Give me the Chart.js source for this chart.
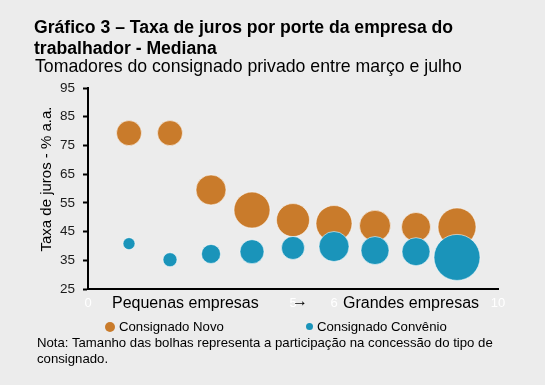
<!DOCTYPE html>
<html lang="pt-BR">
<head>
<meta charset="utf-8">
<script src="https://cdn.jsdelivr.net/npm/chart.js@4.4.1/dist/chart.umd.min.js"></script>
<style>
  html, body { margin: 0; padding: 0; }
  body {
    width: 545px; height: 385px; overflow: hidden; position: relative;
    background: #ececec; font-family: "Liberation Sans", Arial, sans-serif; color: #000;
  }
  #wrap { position: absolute; left: 0; top: 0; width: 545px; height: 385px; }
  .txt { position: absolute; white-space: nowrap; }
  #titulo { left: 34px; top: 17px; font-size: 17.6px; font-weight: bold; line-height: 21px; }
  #subtitulo { left: 35px; top: 56px; font-size: 17.7px; line-height: 20px; }
  .eixo { top: 293px; font-size: 16px; line-height: 20px; }
  .leg { top: 318px; font-size: 13.2px; line-height: 17px; }
  .dot { display: inline-block; border-radius: 50%; vertical-align: middle; margin-right: 4px; position: relative; top: -1px; }
  #nota { left: 37px; top: 335px; font-size: 13.2px; line-height: 16px; }
</style>
</head>
<body>
<div id="wrap"><canvas id="grafico"></canvas></div>
<div class="txt" id="titulo">Gráfico 3 – Taxa de juros por porte da empresa do<br>trabalhador - Mediana</div>
<div class="txt" id="subtitulo">Tomadores do consignado privado entre março e julho</div>
<div class="txt eixo" style="left:112px">Pequenas empresas</div>
<div class="txt eixo" style="left:292px; top:291px">→</div>
<div class="txt eixo" style="left:343px">Grandes empresas</div>
<div class="txt leg" style="left:105px"><span class="dot" style="width:10px;height:10px;background:#c97b2b"></span>Consignado Novo</div>
<div class="txt leg" style="left:306px"><span class="dot" style="width:7px;height:7px;background:#1a94ba"></span>Consignado Convênio</div>
<div class="txt" id="nota">Nota: Tamanho das bolhas representa a participação na concessão do tipo de<br>consignado.</div>
<script>
// dados (posicao no eixo x = porte da empresa, 1 = menor)
var portes = [1, 2, 3, 4, 5, 6, 7, 8, 9];
var taxaNovo = [79.3, 79.3, 59.5, 52.5, 49, 47.8, 47, 46.6, 46.6];
var raioNovo = [12.5, 12.5, 15, 18, 16.5, 18, 15.5, 14.5, 19];
var taxaConvenio = [40.8, 35.2, 37.2, 38, 39.3, 39.8, 38.4, 38, 36];
var raioConvenio = [6, 7, 9.5, 12, 11.5, 15, 14, 14, 23];
var ticksY = [25, 35, 45, 55, 65, 75, 85, 95];
var ticksXVisiveis = [0, 5, 6, 10];
var tituloEixoY = 'Taxa de juros - % a.a.';

function pontos(xs, ys, rs) {
    return xs.map(function (x, i) { return { x: x, y: ys[i], r: rs[i] }; });
}

var fonte = '"Liberation Sans", Arial, sans-serif';

// titulo do eixo y desenhado a mao para ficar um pouco acima do centro
var pluginTituloY = {
    id: 'tituloY',
    afterDraw: function (chart) {
        var ctx = chart.ctx;
        ctx.save();
        ctx.translate(47, 179);
        ctx.rotate(-Math.PI / 2);
        ctx.fillStyle = '#000';
        ctx.font = '15px ' + fonte;
        ctx.textAlign = 'center';
        ctx.textBaseline = 'middle';
        ctx.fillText(tituloEixoY, 0, 0);
        ctx.restore();
    }
};

new Chart(document.getElementById('grafico'), {
    type: 'bubble',
    data: {
        datasets: [
            {
                label: 'Consignado Convênio',
                data: pontos(portes, taxaConvenio, raioConvenio),
                backgroundColor: '#1a94ba',
                borderColor: 'rgba(255,255,255,0.55)',
                borderWidth: 1,
                order: 0
            },
            {
                label: 'Consignado Novo',
                data: pontos(portes, taxaNovo, raioNovo),
                backgroundColor: '#c97b2b',
                borderColor: 'rgba(255,255,255,0.55)',
                borderWidth: 1,
                order: 1
            }
        ]
    },
    plugins: [pluginTituloY],
    options: {
        responsive: true,
        maintainAspectRatio: false,
        animation: false,
        layout: { padding: { left: 38, top: 88, right: 47, bottom: 70 } },
        plugins: {
            legend: { display: false },
            tooltip: { enabled: false }
        },
        scales: {
            x: {
                type: 'linear',
                min: 0,
                max: 10,
                afterFit: function (s) { s.height = 26; },
                ticks: {
                    stepSize: 1,
                    color: '#ffffff',
                    padding: 7,
                    font: { family: fonte, size: 13 },
                    callback: function (v) { return ticksXVisiveis.indexOf(v) >= 0 ? String(v) : ''; }
                },
                grid: { display: false, drawTicks: false },
                border: { color: '#000', width: 2 }
            },
            y: {
                min: 25,
                max: 95,
                afterFit: function (s) { s.width = 50; },
                afterBuildTicks: function (s) {
                    s.ticks = ticksY.map(function (v) { return { value: v }; });
                },
                ticks: {
                    color: '#1a1a1a',
                    padding: 8,
                    font: { family: fonte, size: 13.5 }
                },
                grid: { drawOnChartArea: false, drawTicks: true, tickLength: 5, tickColor: '#000', tickWidth: 2 },
                border: { color: '#000', width: 2 }
            }
        }
    }
});
</script>
</body>
</html>
